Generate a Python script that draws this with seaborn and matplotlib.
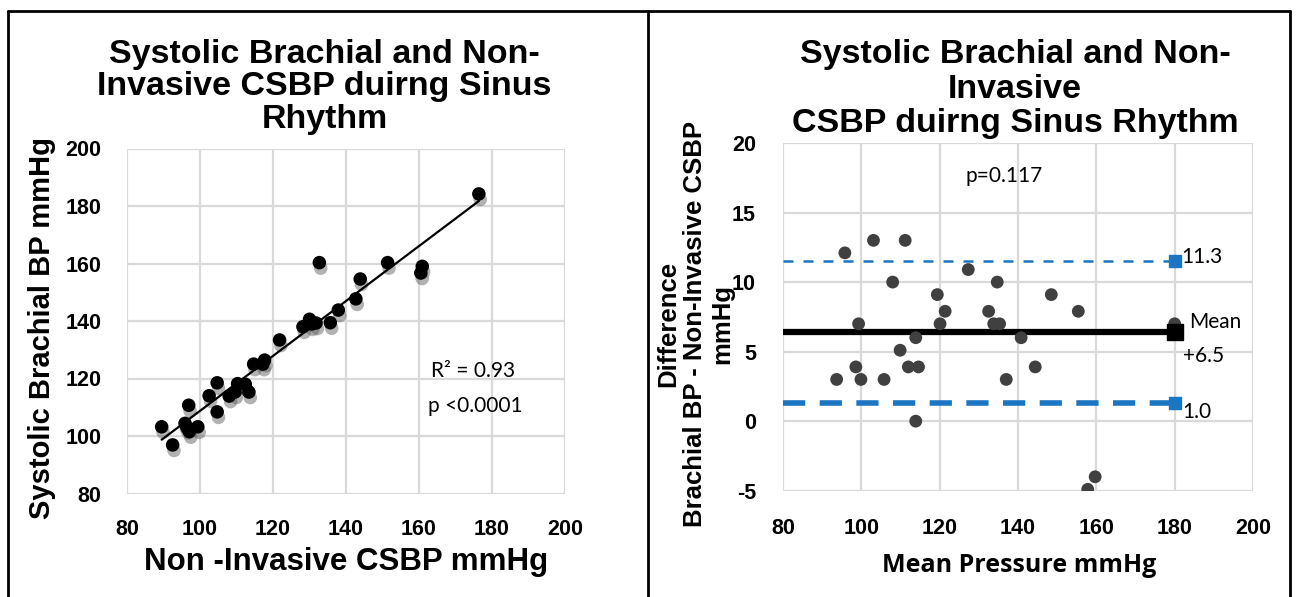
import numpy as np
import pandas as pd
import matplotlib
matplotlib.use("Agg")
import matplotlib.pyplot as plt
import matplotlib.patheffects as pe
from matplotlib.lines import Line2D
import seaborn as sns

# ---------------- data ----------------
# Left panel: Non-invasive CSBP (x) vs systolic brachial BP (y)
csbp_x = [176.4, 132.7, 151.4, 160.9, 160.5, 143.9, 142.7, 137.9, 135.7, 130.0,
          128.2, 131.8, 130.5, 121.8, 117.7, 114.7, 117.2, 110.3, 113.4, 112.4,
          108.0, 109.6, 104.7, 102.5, 104.7, 96.9, 95.9, 97.1, 99.4, 89.5,
          92.5, 96.4]
brachial_y = [184.2, 160.3, 160.3, 159.0, 156.7, 154.6, 147.7, 143.8, 139.4, 140.6,
              138.0, 139.3, 139.0, 133.4, 126.4, 125.0, 125.0, 118.2, 115.3, 118.0,
              113.9, 115.3, 118.5, 114.0, 108.4, 110.7, 104.4, 101.5, 103.2, 103.2,
              96.9, 103.0]
left_ticks = [80, 100, 120, 140, 160, 180, 200]
r2_text = "R\u00b2 = 0.93"
p_left_text = "p <0.0001"

# Right panel: Bland-Altman
mean_pressure = [95.8, 103.1, 111.2, 127.3, 108.0, 134.7, 119.4, 148.5, 121.4, 132.5,
                 155.4, 99.3, 120.1, 133.8, 135.3, 180.0, 113.9, 140.8, 109.9, 98.6,
                 112.0, 114.6, 144.4, 93.7, 99.9, 105.8, 137.0, 113.9, 159.7, 157.8]
difference = [12.1, 13.0, 13.0, 10.9, 10.0, 10.0, 9.1, 9.1, 7.9, 7.9,
              7.9, 7.0, 7.0, 7.0, 7.0, 7.0, 6.0, 6.0, 5.1, 3.9,
              3.9, 3.9, 3.9, 3.0, 3.0, 3.0, 3.0, 0.0, -4.0, -4.9]
right_xticks = [80, 100, 120, 140, 160, 180, 200]
right_yticks = [-5, 0, 5, 10, 15, 20]
upper_loa, mean_diff, lower_loa = 11.5, 6.4, 1.3
upper_label, mean_label, lower_label = "11.3", "Mean", "1.0"
mean_value_label = "+6.5"
line_end_x = 180
p_right_text = "p=0.117"

# ---------------- style ----------------
sns.set_theme(style="whitegrid")
plt.rcParams["font.family"] = ["Liberation Sans", "DejaVu Sans"]
plt.rcParams["axes.unicode_minus"] = False
for k in ["text.color", "axes.labelcolor", "xtick.color", "ytick.color"]:
    plt.rcParams[k] = "black"
GRID = "#d9d9d9"
BLUE = "#1a75c2"
LAB_FONT = ["Lato", "DejaVu Sans"]

fig = plt.figure(figsize=(12.96, 5.97), dpi=100)

def style_axes(ax, ypad, xpad):
    ax.grid(True, color=GRID, linewidth=1.6)
    for s in ax.spines.values():
        s.set_visible(False)
    ax.tick_params(length=0)
    ax.tick_params(axis="y", pad=ypad)
    ax.tick_params(axis="x", pad=xpad)
    for lab in ax.get_xticklabels() + ax.get_yticklabels():
        lab.set_fontweight("bold")
        lab.set_fontsize(15.5)
    ax.set_facecolor("white")

# ---------------- left panel ----------------
axL = fig.add_axes([127/1296, 1-493.5/597, (565-127)/1296, (493.5-148.5)/597])
dfL = pd.DataFrame({"x": csbp_x, "y": brachial_y})
sns.scatterplot(data=dfL, x="x", y="y", ax=axL, color="black", s=95,
                edgecolor="none", zorder=3)
for coll in axL.collections:
    coll.set_path_effects([pe.SimplePatchShadow(offset=(1, -4), shadow_rgbFace="#555555", alpha=0.45),
                           pe.Normal()])
sns.regplot(data=dfL, x="x", y="y", ax=axL, scatter=False, ci=None,
            line_kws={"color": "black", "linewidth": 1.6, "zorder": 4})
axL.set_xlim(left_ticks[0], left_ticks[-1])
axL.set_ylim(left_ticks[0], left_ticks[-1])
axL.set_xticks(left_ticks)
axL.set_yticks(left_ticks)
axL.set_xlabel("Non -Invasive CSBP mmHg", fontsize=22.5, fontweight="bold")
axL.set_ylabel("Systolic Brachial BP mmHg", fontsize=21, fontweight="bold")
axL.xaxis.set_label_coords((346 - 127) / 438, -(547 - 493.5) / 345)
axL.yaxis.set_label_coords(-(127 - 56) / 438, (493.5 - 328) / 345)
style_axes(axL, 18.5, 18.5)
axL.set_title("Systolic Brachial and Non-\nInvasive CSBP duirng Sinus\nRhythm",
              fontsize=24.5, fontweight="bold", linespacing=1.06, pad=15,
              x=(324.5 - 127) / 438)
axL.text(0.79, 0.355, r2_text, transform=axL.transAxes, ha="center", va="center",
         fontsize=15, family=LAB_FONT)
axL.text(0.795, 0.255, p_left_text, transform=axL.transAxes, ha="center", va="center",
         fontsize=15, family=LAB_FONT)

# ---------------- right panel ----------------
axR = fig.add_axes([783/1296, 1-490.7/597, (1253-783)/1296, (490.7-143)/597])
dfR = pd.DataFrame({"mean": mean_pressure, "diff": difference})
sns.scatterplot(data=dfR, x="mean", y="diff", ax=axR, color="#404040", s=85,
                edgecolor="none", zorder=4)
x0 = right_xticks[0]
axR.plot([x0, line_end_x], [upper_loa, upper_loa], color=BLUE, lw=1.8,
         dashes=(4, 4), zorder=3)
axR.plot([line_end_x], [upper_loa], marker="s", color=BLUE, ms=8, zorder=5)
axR.plot([x0, line_end_x], [lower_loa, lower_loa], color=BLUE, lw=4,
         dashes=(4, 2.6), zorder=3)
axR.plot([line_end_x], [lower_loa], marker="s", color=BLUE, ms=8, zorder=5)
axR.plot([x0, line_end_x], [mean_diff, mean_diff], color="black", lw=4.5,
         solid_capstyle="butt", zorder=3)
axR.plot([line_end_x], [mean_diff], marker="s", color="black", ms=11, zorder=5)
axR.set_xlim(right_xticks[0], right_xticks[-1])
axR.set_ylim(right_yticks[0], right_yticks[-1])
axR.set_xticks(right_xticks)
axR.set_yticks(right_yticks)
axR.set_xlabel("Mean Pressure mmHg", fontsize=18, fontweight="bold",
               family=["Open Sans", "DejaVu Sans"])
axR.set_ylabel("Difference\nBrachial BP - Non-Invasive CSBP\nmmHg", fontsize=18.5,
               fontweight="bold", linespacing=1.15)
axR.xaxis.set_label_coords((1019 - 783) / 470, -(553 - 490.7) / 347.7)
axR.yaxis.set_label_coords(-(783 - 734) / 470, (490.7 - 324) / 347.7)
style_axes(axR, 19.5, 20)
axR.set_title("Systolic Brachial and Non-\nInvasive\nCSBP duirng Sinus Rhythm",
              fontsize=24.5, fontweight="bold", linespacing=1.14, pad=8,
              x=(1015 - 783) / 470)
axR.text(0.47, 0.906, p_right_text, transform=axR.transAxes, ha="center", va="center",
         fontsize=15, family=LAB_FONT)
axR.text(line_end_x + 1.8, upper_loa + 0.3, upper_label, ha="left", va="center",
         fontsize=15, family=LAB_FONT)
axR.text(line_end_x + 3.8, mean_diff + 0.75, mean_label, ha="left", va="center",
         fontsize=15, family=LAB_FONT)
axR.text(line_end_x + 2.0, mean_diff - 1.7, mean_value_label, ha="left", va="center",
         fontsize=15, family=LAB_FONT)
axR.text(line_end_x + 2.0, lower_loa - 0.65, lower_label, ha="left", va="center",
         fontsize=15, family=LAB_FONT)

# ---------------- panel borders ----------------
for xs, ys in [([8/1296, 8/1296], [0, 1-11/597]),
               ([8/1296, 1290/1296], [1-11/597, 1-11/597]),
               ([648/1296, 648/1296], [0, 1-11/597]),
               ([1290/1296, 1290/1296], [0, 1-11/597])]:
    fig.add_artist(Line2D(xs, ys, transform=fig.transFigure, color="black", lw=2))

fig.savefig("out.png", dpi=100, facecolor="white")
